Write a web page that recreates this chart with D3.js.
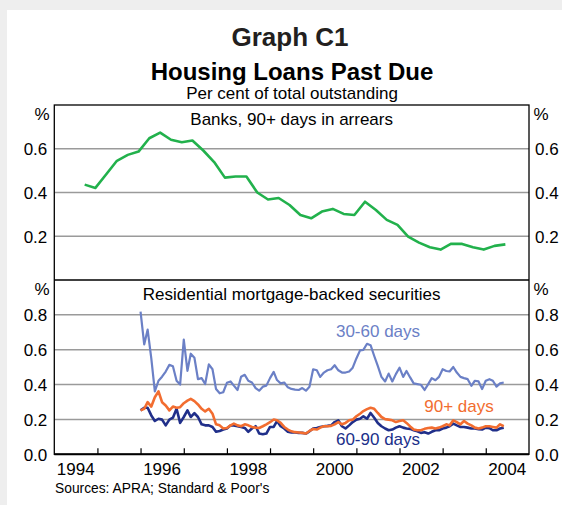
<!DOCTYPE html>
<html>
<head>
<meta charset="utf-8">
<script src="https://cdn.jsdelivr.net/npm/d3@7"></script>
<style>
  body { margin: 0; background: #eeeeee; }
  svg { display: block; font-family: "Liberation Sans", Arial, sans-serif; }
</style>
</head>
<body>
<div id="chart"></div>
<script>
"use strict";

// banks, 90+ days in arrears (quarterly, Sep 1994 - Jun 2004)
let bankQuarters = d3.timeMonth.range(new Date(1994, 8, 1), new Date(2004, 6, 1), 3)
  .map(d => d3.timeDay.offset(d, 14));
let bankArrears = [0.436, 0.421, 0.482, 0.545, 0.572, 0.587, 0.648, 0.674, 0.641, 0.630,
  0.638, 0.592, 0.539, 0.468, 0.473, 0.473, 0.400, 0.368, 0.375, 0.343,
  0.297, 0.282, 0.313, 0.325, 0.302, 0.297, 0.358, 0.320, 0.275, 0.252,
  0.198, 0.171, 0.150, 0.139, 0.166, 0.165, 0.150, 0.139, 0.156, 0.163];

// RMBS (monthly, Jan 1996 - Jun 2004)
let rmbsMonths = d3.timeMonth.range(new Date(1996, 0, 1), new Date(2004, 6, 1));
let days30to60 = [0.819, 0.630, 0.715, 0.550, 0.361, 0.422, 0.445, 0.475, 0.513, 0.505,
  0.422, 0.400, 0.658, 0.479, 0.577, 0.554, 0.431, 0.437, 0.403, 0.516,
  0.488, 0.375, 0.350, 0.356, 0.410, 0.418, 0.394, 0.369, 0.445, 0.456,
  0.422, 0.412, 0.380, 0.365, 0.388, 0.394, 0.437, 0.473, 0.426, 0.407,
  0.412, 0.384, 0.375, 0.371, 0.369, 0.380, 0.365, 0.388, 0.488, 0.482,
  0.444, 0.469, 0.482, 0.488, 0.511, 0.482, 0.469, 0.469, 0.475, 0.497,
  0.550, 0.596, 0.599, 0.634, 0.626, 0.564, 0.507, 0.444, 0.418, 0.463,
  0.418, 0.460, 0.497, 0.444, 0.478, 0.441, 0.407, 0.403, 0.399, 0.369,
  0.403, 0.437, 0.425, 0.444, 0.488, 0.478, 0.475, 0.501, 0.469, 0.444,
  0.437, 0.431, 0.393, 0.422, 0.418, 0.374, 0.422, 0.431, 0.422, 0.388,
  0.407, 0.412];
let days60to90 = [0.252, 0.267, 0.267, 0.223, 0.191, 0.204, 0.199, 0.166, 0.199, 0.210,
  0.261, 0.180, 0.214, 0.252, 0.214, 0.236, 0.214, 0.172, 0.166, 0.166,
  0.157, 0.129, 0.134, 0.142, 0.148, 0.166, 0.166, 0.161, 0.157, 0.151,
  0.129, 0.148, 0.161, 0.119, 0.115, 0.119, 0.157, 0.157, 0.191, 0.161,
  0.148, 0.129, 0.125, 0.125, 0.123, 0.123, 0.119, 0.132, 0.148, 0.151,
  0.157, 0.161, 0.163, 0.166, 0.185, 0.195, 0.161, 0.148, 0.166, 0.185,
  0.199, 0.204, 0.218, 0.204, 0.237, 0.210, 0.180, 0.161, 0.148, 0.138,
  0.142, 0.153, 0.161, 0.153, 0.148, 0.146, 0.138, 0.132, 0.123, 0.127,
  0.119, 0.129, 0.138, 0.138, 0.148, 0.153, 0.161, 0.176, 0.166, 0.157,
  0.157, 0.153, 0.148, 0.148, 0.144, 0.142, 0.153, 0.150, 0.138, 0.138,
  0.148, 0.153];
let days90plus = [0.252, 0.261, 0.299, 0.274, 0.327, 0.361, 0.299, 0.280, 0.252, 0.274,
  0.267, 0.270, 0.293, 0.308, 0.318, 0.305, 0.286, 0.261, 0.246, 0.261,
  0.233, 0.172, 0.166, 0.148, 0.151, 0.166, 0.176, 0.166, 0.161, 0.172,
  0.166, 0.157, 0.153, 0.151, 0.161, 0.172, 0.184, 0.200, 0.195, 0.180,
  0.157, 0.142, 0.132, 0.127, 0.125, 0.123, 0.119, 0.134, 0.145, 0.142,
  0.153, 0.161, 0.161, 0.163, 0.172, 0.185, 0.172, 0.180, 0.195, 0.199,
  0.218, 0.233, 0.248, 0.259, 0.267, 0.261, 0.237, 0.214, 0.202, 0.199,
  0.195, 0.185, 0.191, 0.195, 0.180, 0.160, 0.142, 0.138, 0.138, 0.146,
  0.151, 0.153, 0.148, 0.153, 0.161, 0.172, 0.166, 0.195, 0.185, 0.172,
  0.191, 0.176, 0.166, 0.153, 0.148, 0.153, 0.161, 0.161, 0.157, 0.153,
  0.172, 0.161];

let topTicks = [0.2, 0.4, 0.6];
let bottomTicks = [0.0, 0.2, 0.4, 0.6, 0.8];
let yearTicks = d3.range(1995, 2005);
let yearLabels = [1994, 1996, 1998, 2000, 2002, 2004];

let width = 562, height = 505;
let plotLeft = 54.3, plotRight = 529, plotTop = 105, plotMid = 280, plotBottom = 454.3;

let svg = d3.select("#chart").append("svg")
  .attr("width", width)
  .attr("height", height);

// background card
svg.append("rect").attr("width", width).attr("height", height).attr("fill", "#eeeeee");
svg.append("rect").attr("x", 7).attr("y", 10).attr("width", width - 7).attr("height", height - 10)
  .attr("fill", "#ffffff");

let x = d3.scaleTime()
  .domain([new Date(1994, 0, 1), new Date(2005, 0, 1)])
  .range([plotLeft, plotRight]);
let yTop = d3.scaleLinear().domain([0, 0.8]).range([plotMid, plotTop]);
let yBottom = d3.scaleLinear().domain([0, 1.0]).range([plotBottom, plotMid]);

// titles
svg.append("text").attr("x", 290).attr("y", 46).attr("text-anchor", "middle")
  .style("font-size", "26px").style("font-weight", "bold").attr("fill", "#231f20")
  .text("Graph C1");
svg.append("text").attr("x", 292).attr("y", 80).attr("text-anchor", "middle")
  .style("font-size", "24px").style("font-weight", "bold").attr("fill", "#000")
  .text("Housing Loans Past Due");
svg.append("text").attr("x", 292).attr("y", 98.5).attr("text-anchor", "middle")
  .style("font-size", "17px").attr("fill", "#000")
  .text("Per cent of total outstanding");

// gridlines
function drawGrid(scale, ticks) {
  svg.append("g")
    .selectAll("line")
    .data(ticks.filter(t => t > 0))
    .enter().append("line")
    .attr("x1", plotLeft).attr("x2", plotRight)
    .attr("y1", d => scale(d)).attr("y2", d => scale(d))
    .attr("stroke", "#9a9a9a")
    .attr("stroke-width", 1.5);
}
drawGrid(yTop, topTicks);
drawGrid(yBottom, bottomTicks);

// y axes on both sides
function drawYAxes(scale, ticks, labelY) {
  let fmt = d3.format(".1f");
  let axL = svg.append("g").attr("transform", `translate(${plotLeft},0)`)
    .call(d3.axisLeft(scale).tickValues(ticks).tickSize(0).tickPadding(7).tickFormat(fmt));
  let axR = svg.append("g").attr("transform", `translate(${plotRight},0)`)
    .call(d3.axisRight(scale).tickValues(ticks).tickSize(0).tickPadding(6).tickFormat(fmt));
  [axL, axR].forEach(ax => {
    ax.select(".domain").remove();
    ax.selectAll("text")
      .style("font-size", "17px")
      .style("font-family", "Liberation Sans, Arial, sans-serif")
      .attr("fill", "#000")
      .attr("dy", "0.36em");
  });
  svg.append("text").attr("x", 42).attr("y", labelY).attr("text-anchor", "middle")
    .style("font-size", "17px").text("%");
  svg.append("text").attr("x", 541).attr("y", labelY).attr("text-anchor", "middle")
    .style("font-size", "17px").text("%");
}
drawYAxes(yTop, topTicks, 120);
drawYAxes(yBottom, bottomTicks, 295);

// panel captions
svg.append("text").attr("x", (plotLeft + plotRight) / 2).attr("y", 125).attr("text-anchor", "middle")
  .style("font-size", "17px").text("Banks, 90+ days in arrears");
svg.append("text").attr("x", (plotLeft + plotRight) / 2).attr("y", 300).attr("text-anchor", "middle")
  .style("font-size", "17px").text("Residential mortgage-backed securities");

// series lines
function drawLine(dates, values, scale, color, w) {
  let line = d3.line()
    .x((d, i) => x(dates[i]))
    .y(d => scale(d));
  svg.append("path")
    .datum(values)
    .attr("d", line)
    .attr("fill", "none")
    .attr("stroke", color)
    .attr("stroke-width", w)
    .attr("stroke-linejoin", "round");
}
drawLine(bankQuarters, bankArrears, yTop, "#22b14c", 2.6);
drawLine(rmbsMonths, days30to60, yBottom, "#6b80c6", 2.2);
drawLine(rmbsMonths, days60to90, yBottom, "#202f8a", 2.6);
drawLine(rmbsMonths, days90plus, yBottom, "#f26d30", 2.6);

// series labels
svg.append("text").attr("x", 378).attr("y", 336.5).attr("text-anchor", "middle")
  .style("font-size", "17px").attr("fill", "#6b80c6").text("30-60 days");
svg.append("text").attr("x", 459).attr("y", 411.5).attr("text-anchor", "middle")
  .style("font-size", "17px").attr("fill", "#f26d30").text("90+ days");
svg.append("text").attr("x", 378).attr("y", 445).attr("text-anchor", "middle")
  .style("font-size", "17px").attr("fill", "#202f8a").text("60-90 days");

// x axis: year ticks upwards, labels centred on the year
let xAxis = svg.append("g").attr("transform", `translate(0,${plotBottom})`)
  .call(d3.axisBottom(x).tickValues(yearTicks.map(yr => new Date(yr, 0, 1))).tickSize(-6).tickFormat(""));
xAxis.select(".domain").remove();
xAxis.selectAll("line").attr("stroke", "#000").attr("stroke-width", 1.2);

svg.append("g")
  .selectAll("text")
  .data(yearLabels)
  .enter().append("text")
  .attr("x", d => x(new Date(d, 6, 1)))
  .attr("y", 475)
  .attr("text-anchor", "middle")
  .style("font-size", "17px")
  .text(d => d);

// frame
svg.append("rect")
  .attr("x", plotLeft).attr("y", plotTop)
  .attr("width", plotRight - plotLeft).attr("height", plotBottom - plotTop)
  .attr("fill", "none").attr("stroke", "#000").attr("stroke-width", 1.3);
svg.append("line").attr("x1", plotLeft).attr("x2", plotRight).attr("y1", plotMid).attr("y2", plotMid)
  .attr("stroke", "#000").attr("stroke-width", 1.6);
svg.append("line").attr("x1", plotLeft).attr("x2", plotRight).attr("y1", plotBottom).attr("y2", plotBottom)
  .attr("stroke", "#000").attr("stroke-width", 2);

svg.append("text").attr("x", 55).attr("y", 493)
  .style("font-size", "13.8px").text("Sources: APRA; Standard & Poor's");
</script>
</body>
</html>
